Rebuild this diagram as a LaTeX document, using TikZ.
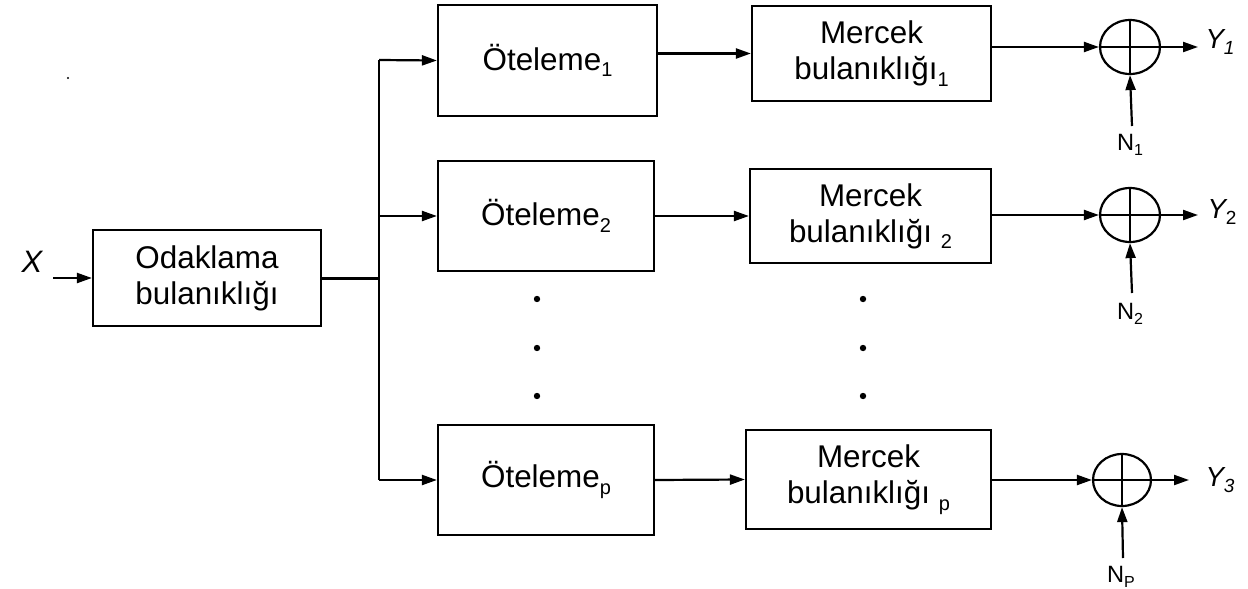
\documentclass[tikz,border=0pt]{standalone}
\usepackage{fontspec}
\setmainfont{Liberation Sans}
\usetikzlibrary{arrows.meta,shapes.geometric}
\newcommand{\bsub}[1]{\raisebox{-3.2pt}{\fontsize{10}{11}\selectfont #1}}
\newcommand{\nsub}[1]{\raisebox{-2.4pt}{\fontsize{8}{9}\selectfont #1}}
\newcommand{\ysub}[1]{\raisebox{-2.8pt}{\fontsize{9.5}{10}\selectfont #1}}
\begin{document}
\begin{tikzpicture}[x=0.5pt,y=-0.5pt,
  blk/.style={draw, line width=1.1pt, inner sep=0pt, align=center, font=\fontsize{15.7}{18}\selectfont},
  sumn/.style={draw, ellipse, line width=1.1pt, inner sep=0pt, minimum width=30pt, minimum height=27pt},
  arr/.style={-{Triangle[length=7.5pt,width=5pt]}, line width=1.1pt},
  ln/.style={line width=1.1pt},
  lbl/.style={inner sep=0pt, font=\fontsize{11.8}{14}\selectfont},
  ylbl/.style={inner sep=0pt, font=\fontsize{13.8}{16}\selectfont\itshape},
  dotn/.style={fill, circle, inner sep=0pt, minimum size=3.2pt}]
\useasboundingbox (0,0) rectangle (1248,589);

% blocks
\node[blk, minimum width=114pt, minimum height=48pt] (od) at (207,278) {Odaklama\\bulanıklığı};
\node[blk, minimum width=109.5pt, minimum height=55.5pt] (o1) at (547.5,60.5) {Öteleme\bsub{1}};
\node[blk, minimum width=108pt, minimum height=55pt] (o2) at (546,216) {Öteleme\bsub{2}};
\node[blk, minimum width=108pt, minimum height=55pt] (op) at (546,480) {Öteleme\bsub{p}};
\node[blk, minimum width=119.5pt, minimum height=47.5pt] (m1) at (871.5,53.5) {Mercek\\bulanıklığı\bsub{1}};
\node[blk, minimum width=120.5pt, minimum height=47pt] (m2) at (870.5,216) {Mercek\\bulanıklığı \bsub{2}};
\node[blk, minimum width=122.5pt, minimum height=49.5pt] (mp) at (868.5,479.5) {Mercek\\bulanıklığı \bsub{p}};

% summing junctions
\node[sumn] (s1) at (1130,47) {};
\node[sumn] (s2) at (1130,215) {};
\node[sumn, minimum width=29pt, minimum height=26pt] (sp) at (1122,480) {};
\foreach \s in {s1,s2,sp} {\draw[ln] (\s.north) -- (\s.south) (\s.west) -- (\s.east);}

% labels
\node[inner sep=0pt, font=\fontsize{15.5}{18}\selectfont\itshape] (x) at (32,262) {X};
\node[ylbl] (y1) at (1220,42) {Y\ysub{1}};
\node[ylbl] (y2) at (1222,212) {Y\ysub{\upshape 2}};
\node[ylbl] (y3) at (1220,480) {Y\ysub{3}};
\node[lbl] (n1) at (1130,145) {N\nsub{1}};
\node[lbl] (n2) at (1130,314) {N\nsub{2}};
\node[lbl] (np) at (1121,577) {N\nsub{P}};

% coordinates
\coordinate (xin) at (53,278);
\coordinate (br) at (379,278);
\coordinate (bt) at (379,60);
\coordinate (bm) at (379,216);
\coordinate (bb) at (379,480);
\coordinate (e1) at (1198,47);
\coordinate (e2) at (1198,215);
\coordinate (ep) at (1189,480);
\coordinate (n1a) at (1132,126);
\coordinate (n2a) at (1132,293);
\coordinate (npa) at (1123,558);

% connectors
\draw[arr] (xin) -- (od.west);
\draw[line width=1.5pt] (od.east) -- (br);
\draw[ln] (bt) -- (bb);
\draw[arr] (bt) -- (o1.west);
\draw[arr] (bm) -- (o2.west);
\draw[arr] (bb) -- (op.west);
\draw[arr] (o1.east |- m1.west) -- (m1.west);
\draw[arr] (o2.east) -- (m2.west);
\draw[arr] (op.east) -- (mp.west);
\draw[arr] (m1.east |- s1.west) -- (s1.west);
\draw[arr] (m2.east |- s2.west) -- (s2.west);
\draw[arr] (mp.east |- sp.west) -- (sp.west);
\draw[arr] (s1.east) -- (e1);
\draw[arr] (s2.east) -- (e2);
\draw[arr] (sp.east) -- (ep);
\draw[arr] (n1a) -- (s1.south);
\draw[arr] (n2a) -- (s2.south);
\draw[arr] (npa) -- (sp.south);

% dots
\foreach \yy [count=\i] in {299,348,396} {
  \node[dotn] (dl\i) at (537,\yy) {};
  \node[dotn] (dr\i) at (863,\yy) {};
}
\node[fill, circle, inner sep=0pt, minimum size=1.2pt] (stray) at (68,78) {};
\end{tikzpicture}
\end{document}
